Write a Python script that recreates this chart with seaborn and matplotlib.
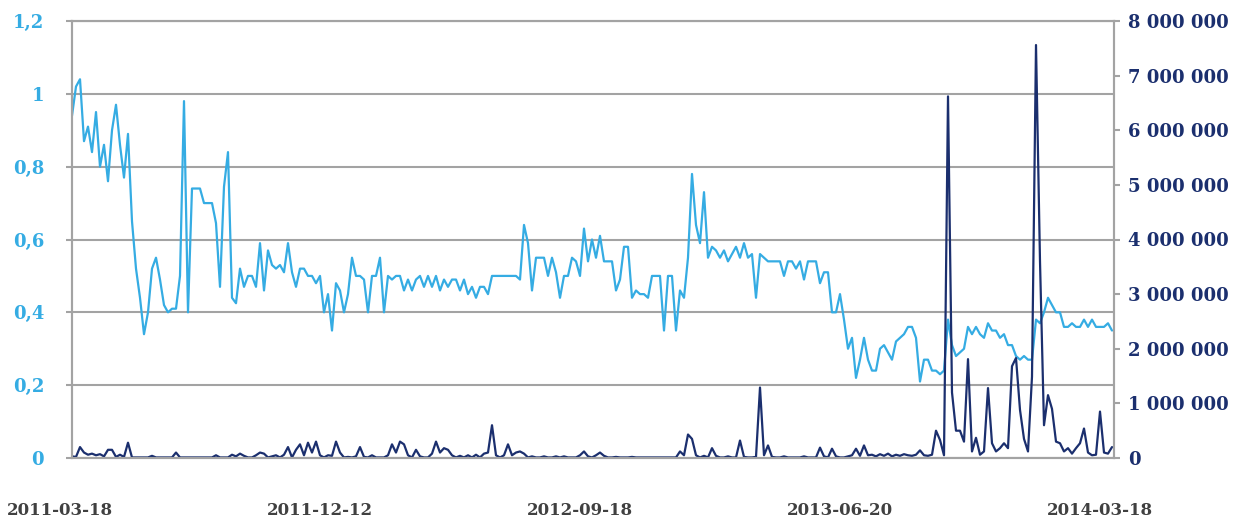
import numpy as np
import seaborn as sns
import matplotlib.pyplot as plt
from matplotlib.transforms import ScaledTranslation

# ratio (axe gauche)
ratio = [
    0.94, 1.02, 1.04, 0.87, 0.91, 0.84, 0.95, 0.80, 0.86, 0.76,
    0.90, 0.97, 0.86, 0.77, 0.89, 0.65, 0.52, 0.44, 0.34, 0.40,
    0.52, 0.55, 0.49, 0.42, 0.40, 0.41, 0.41, 0.50, 0.98, 0.40,
    0.74, 0.74, 0.74, 0.70, 0.70, 0.70, 0.645, 0.47, 0.745, 0.84,
    0.44, 0.425, 0.52, 0.47, 0.50, 0.50, 0.47, 0.59, 0.46, 0.57,
    0.53, 0.52, 0.53, 0.51, 0.59, 0.51, 0.47, 0.52, 0.52, 0.50,
    0.50, 0.48, 0.50, 0.40, 0.45, 0.35, 0.48, 0.46, 0.40, 0.45,
    0.55, 0.50, 0.50, 0.49, 0.40, 0.50, 0.50, 0.55, 0.40, 0.50,
    0.49, 0.50, 0.50, 0.46, 0.49, 0.46, 0.49, 0.50, 0.47, 0.50,
    0.47, 0.50, 0.46, 0.49, 0.47, 0.49, 0.49, 0.46, 0.49, 0.45,
    0.47, 0.44, 0.47, 0.47, 0.45, 0.50, 0.50, 0.50, 0.50, 0.50,
    0.50, 0.50, 0.49, 0.64, 0.59, 0.46, 0.55, 0.55, 0.55, 0.50,
    0.55, 0.51, 0.44, 0.50, 0.50, 0.55, 0.54, 0.50, 0.63, 0.54,
    0.60, 0.55, 0.61, 0.54, 0.54, 0.54, 0.46, 0.49, 0.58, 0.58,
    0.44, 0.46, 0.45, 0.45, 0.44, 0.50, 0.50, 0.50, 0.35, 0.50,
    0.50, 0.35, 0.46, 0.44, 0.55, 0.78, 0.64, 0.59, 0.73, 0.55,
    0.58, 0.57, 0.55, 0.57, 0.54, 0.56, 0.58, 0.55, 0.59, 0.55,
    0.56, 0.44, 0.56, 0.55, 0.54, 0.54, 0.54, 0.54, 0.50, 0.54,
    0.54, 0.52, 0.54, 0.49, 0.54, 0.54, 0.54, 0.48, 0.51, 0.51,
    0.40, 0.40, 0.45, 0.38, 0.30, 0.33, 0.22, 0.27, 0.33, 0.27,
    0.24, 0.24, 0.30, 0.31, 0.29, 0.27, 0.32, 0.33, 0.34, 0.36,
    0.36, 0.33, 0.21, 0.27, 0.27, 0.24, 0.24, 0.23, 0.24, 0.38,
    0.31, 0.28, 0.29, 0.30, 0.36, 0.34, 0.36, 0.34, 0.33, 0.37,
    0.35, 0.35, 0.33, 0.34, 0.31, 0.31, 0.28, 0.27, 0.28, 0.27,
    0.27, 0.38, 0.37, 0.40, 0.44, 0.42, 0.40, 0.40, 0.36, 0.36,
    0.37, 0.36, 0.36, 0.38, 0.36, 0.38, 0.36, 0.36, 0.36, 0.37, 0.35,
]

# volume (axe droit), en millions
volume_millions = [
    0.03, 0.02, 0.20, 0.10, 0.06, 0.08, 0.05, 0.07, 0.03, 0.15,
    0.15, 0.02, 0.06, 0.02, 0.28, 0.01, 0.01, 0.01, 0.01, 0.01,
    0.04, 0.01, 0.01, 0.01, 0.01, 0.01, 0.10, 0.01, 0.01, 0.01,
    0.01, 0.01, 0.01, 0.01, 0.01, 0.01, 0.05, 0.01, 0.01, 0.01,
    0.06, 0.03, 0.08, 0.04, 0.01, 0.01, 0.05, 0.10, 0.08, 0.01,
    0.03, 0.05, 0.01, 0.06, 0.20, 0.01, 0.15, 0.25, 0.05, 0.28,
    0.10, 0.30, 0.05, 0.01, 0.05, 0.04, 0.30, 0.10, 0.01, 0.02,
    0.01, 0.03, 0.20, 0.02, 0.01, 0.05, 0.01, 0.01, 0.01, 0.05,
    0.25, 0.10, 0.30, 0.25, 0.05, 0.01, 0.15, 0.03, 0.01, 0.01,
    0.08, 0.30, 0.10, 0.18, 0.15, 0.05, 0.01, 0.04, 0.01, 0.05,
    0.01, 0.06, 0.01, 0.08, 0.10, 0.60, 0.05, 0.01, 0.05, 0.25,
    0.05, 0.10, 0.12, 0.08, 0.01, 0.03, 0.01, 0.01, 0.03, 0.01,
    0.01, 0.03, 0.01, 0.03, 0.01, 0.01, 0.01, 0.05, 0.12, 0.03,
    0.01, 0.05, 0.10, 0.04, 0.01, 0.01, 0.02, 0.01, 0.01, 0.01,
    0.02, 0.01, 0.01, 0.01, 0.01, 0.01, 0.01, 0.01, 0.01, 0.01,
    0.01, 0.01, 0.12, 0.05, 0.43, 0.35, 0.05, 0.01, 0.04, 0.01,
    0.18, 0.04, 0.01, 0.01, 0.03, 0.01, 0.01, 0.32, 0.02, 0.01,
    0.01, 0.02, 1.29, 0.05, 0.23, 0.02, 0.01, 0.01, 0.03, 0.01,
    0.01, 0.01, 0.01, 0.03, 0.01, 0.01, 0.01, 0.19, 0.03, 0.01,
    0.17, 0.03, 0.01, 0.01, 0.03, 0.05, 0.17, 0.04, 0.23, 0.05,
    0.06, 0.03, 0.07, 0.04, 0.08, 0.03, 0.06, 0.04, 0.07, 0.05,
    0.04, 0.06, 0.14, 0.05, 0.04, 0.06, 0.50, 0.33, 0.05, 6.62,
    1.20, 0.50, 0.50, 0.30, 1.81, 0.12, 0.37, 0.06, 0.12, 1.28,
    0.27, 0.12, 0.18, 0.27, 0.18, 1.68, 1.83, 0.88, 0.35, 0.12,
    1.49, 7.56, 3.60, 0.60, 1.15, 0.90, 0.30, 0.27, 0.12, 0.18,
    0.08, 0.18, 0.27, 0.54, 0.10, 0.05, 0.06, 0.85, 0.10, 0.08, 0.20,
]

date_labels = ["2011-03-18", "2011-12-12", "2012-09-18", "2013-06-20", "2014-03-18"]
date_ticks = [0, 65, 130, 195, 260]

left_ticks = [0, 0.2, 0.4, 0.6, 0.8, 1.0, 1.2]
left_labels = ["0", "0,2", "0,4", "0,6", "0,8", "1", "1,2"]
right_ticks = [0, 1000000, 2000000, 3000000, 4000000, 5000000, 6000000, 7000000, 8000000]

light_blue = "#35ACE3"
navy = "#1B2F6E"
grey = "#A3A3A3"

idx = np.arange(len(ratio))
volume = np.array(volume_millions) * 1e6

sns.set_style("white")
plt.rcParams['font.family'] = ['DejaVu Serif']
plt.rcParams['font.weight'] = 'bold'

fig = plt.figure(figsize=(12.43, 5.21), dpi=100)
ax = fig.add_axes([72 / 1243, 63 / 521, 1042 / 1243, 437 / 521])

# ratio sur l'axe gauche
sns.lineplot(x=idx, y=ratio, ax=ax, color=light_blue, linewidth=1.6)
ax.set_xlim(0, 260.5)
ax.set_ylim(0, 1.2)
ax.set_yticks(left_ticks)
ax.set_yticklabels(left_labels)
ax.yaxis.grid(True, color=grey, linewidth=1.5)
ax.set_axisbelow(True)
ax.tick_params(axis='y', colors=grey, labelcolor=light_blue, labelsize=13,
               length=4, width=1.5, pad=16, direction='out', left=True)
ax.set_xticks(date_ticks)
ax.set_xticklabels(date_labels)
ax.tick_params(axis='x', length=0, pad=32, labelsize=12, labelcolor="#404040")
shift = ScaledTranslation(-12 / 100, 0, fig.dpi_scale_trans)
for lab in ax.get_xticklabels():
    lab.set_transform(lab.get_transform() + shift)
ax.set_xlabel("")
ax.set_ylabel("")

# volume sur l'axe droit
ax2 = ax.twinx()
sns.lineplot(x=idx, y=volume, ax=ax2, color=navy, linewidth=1.6)
ax2.set_ylim(0, 8000000)
ax2.set_yticks(right_ticks)
ax2.set_yticklabels([f"{v:,}".replace(",", " ") for v in right_ticks])
ax2.tick_params(axis='y', colors=grey, labelcolor=navy, labelsize=13,
                length=4, width=1.5, pad=6, direction='out')
ax2.set_ylabel("")

for a in (ax, ax2):
    for s in a.spines.values():
        s.set_color(grey)
        s.set_linewidth(1.5)

fig.savefig("out.png", dpi=100)
